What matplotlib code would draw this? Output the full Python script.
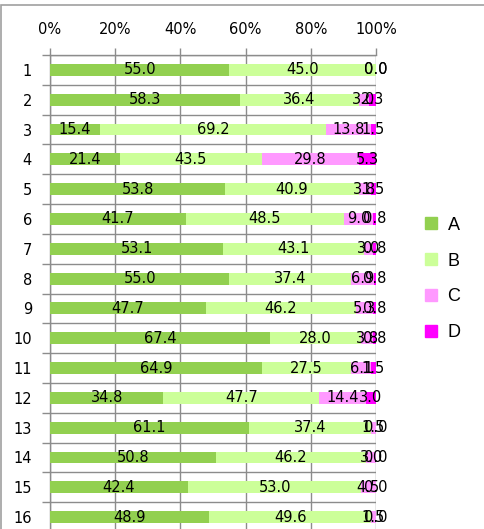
import matplotlib
matplotlib.use("Agg")
import matplotlib.pyplot as plt
from matplotlib.lines import Line2D
from matplotlib.patches import Rectangle
import numpy as np

# Data (percent per row)
rows = [str(i) for i in range(1, 17)]
a_vals = [55.0, 58.3, 15.4, 21.4, 53.8, 41.7, 53.1, 55.0, 47.7, 67.4, 64.9, 34.8, 61.1, 50.8, 42.4, 48.9]
b_vals = [45.0, 36.4, 69.2, 43.5, 40.9, 48.5, 43.1, 37.4, 46.2, 28.0, 27.5, 47.7, 37.4, 46.2, 53.0, 49.6]
c_vals = [0.0, 3.0, 13.8, 29.8, 3.8, 9.0, 3.0, 6.9, 5.3, 3.8, 6.1, 14.4, 1.5, 3.0, 4.5, 1.5]
d_vals = [0.0, 2.3, 1.5, 5.3, 1.5, 0.8, 0.8, 0.8, 0.8, 0.8, 1.5, 3.0, 0.0, 0.0, 0.0, 0.0]
series_names = ["A", "B", "C", "D"]
colors = ["#92D050", "#CCFF99", "#FF99FF", "#FF00FF"]
x_ticks = [0, 20, 40, 60, 80, 100]
x_ticklabels = ["0%", "20%", "40%", "60%", "80%", "100%"]

grid_col = "#8C8C8C"

fig = plt.figure(figsize=(4.84, 5.29), dpi=100)
ax = fig.add_axes([50 / 484, 1 - 532 / 529, 326 / 484, 477 / 529])

y = np.arange(len(rows))
left = np.zeros(len(rows))
for vals, name, col in zip([a_vals, b_vals, c_vals, d_vals], series_names, colors):
    vals = np.array(vals)
    ax.barh(y, vals, left=left, height=0.4, color=col, label=name, zorder=3)
    # labels centred in each segment, overlapping ones kept like the original
    for yi, l, v in zip(y, left, vals):
        ax.text(l + v / 2, yi, f"{v:.1f}", ha="center", va="center",
                fontsize=10.5, color="black", zorder=4)
    left = left + vals

ax.set_xlim(0, 100)
ax.set_ylim(len(rows) - 0.5, -0.5)

ax.xaxis.tick_top()
ax.set_xticks(x_ticks)
ax.set_xticklabels(x_ticklabels, fontsize=10.5)
ax.tick_params(axis="x", length=5, width=1, color=grid_col, pad=8)
ax.grid(axis="x", color=grid_col, linewidth=1, zorder=1)

ax.set_yticks(y)
ax.set_yticklabels(rows, fontsize=10.5)
ax.tick_params(axis="y", which="major", length=0, pad=13)
ax.set_yticks(np.arange(-0.5, len(rows), 1), minor=True)
ax.tick_params(axis="y", which="minor", length=6, width=1, color=grid_col)
ax.grid(axis="y", which="minor", color=grid_col, linewidth=1, zorder=1)

for s in ax.spines.values():
    s.set_color(grid_col)
    s.set_linewidth(1)
ax.spines["right"].set_visible(False)

# Legend
handles = [Line2D([], [], marker="s", linestyle="none", markersize=9,
                  markerfacecolor=c, markeredgecolor=c) for c in colors]
fig.legend(handles, series_names, loc="center left",
           bbox_to_anchor=(424 / 484, 1 - 279 / 529), frameon=False,
           prop={"family": "Liberation Sans", "size": 13},
           handlelength=0.8, handletextpad=0.5, labelspacing=1.05,
           borderpad=0, borderaxespad=0)

# Chart border
fig.patches.append(Rectangle((1 / 484, -0.1), 2.0, 1.1 - 5 / 529,
                             transform=fig.transFigure, fill=False,
                             edgecolor="#A0A0A0", linewidth=1.2))

fig.savefig("out.png", dpi=100)
